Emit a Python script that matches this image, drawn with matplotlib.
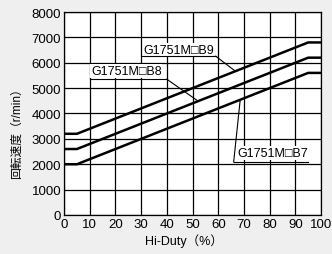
import matplotlib
matplotlib.use('Agg')
import matplotlib.pyplot as plt

# fonts: latin first, CJK for the japanese label and the box sign
plt.rcParams['font.family'] = ['Liberation Sans', 'Noto Sans CJK JP', 'DejaVu Sans']

# data (Hi-Duty % -> speed r/min)
duty = [0, 5, 95, 100]
speed_b7 = [2000, 2000, 5600, 5600]
speed_b8 = [2600, 2600, 6200, 6200]
speed_b9 = [3200, 3200, 6800, 6800]

names = ['G1751M□B7', 'G1751M□B8', 'G1751M□B9']

fig = plt.figure(figsize=(3.32, 2.55), dpi=100)
fig.patch.set_facecolor('#efefef')
ax = fig.add_axes([0.193, 0.153, 0.774, 0.796])
ax.set_facecolor('white')

for s in [speed_b7, speed_b8, speed_b9]:
    ax.plot(duty, s, color='black', lw=1.8, solid_capstyle='butt', zorder=3)

ax.set_xlim(0, 100)
ax.set_ylim(0, 8000)
ax.set_xticks(range(0, 101, 10))
ax.set_yticks(range(0, 8001, 1000))
ax.grid(True, color='black', lw=0.9)
ax.tick_params(length=0, labelsize=9.5, pad=2)
for sp in ax.spines.values():
    sp.set_color('black')
    sp.set_linewidth(0.9)

ax.set_xlabel('Hi-Duty（%）', fontsize=9)
ax.xaxis.set_label_coords(0.467, -0.092)
ax.set_ylabel('回転速度（r/min）', fontsize=8.5)
ax.yaxis.set_label_coords(-0.16, 0.42)

# labels with underline and leader line
box = dict(facecolor='white', edgecolor='none', pad=0.5)
# (text x, text y, underline x0, x1, underline y, leader end x, y)
lab = [
    (67.5, 2440, 66, 95, 2090, 68.5, 4500),
    (10.5, 5670, 10, 40, 5350, 52, 4500),
    (31, 6500, 30.5, 59, 6260, 66.5, 5680),
]
for name, (tx, ty, x0, x1, uy, lx, ly) in zip(names, lab):
    ax.text(tx, ty, name, fontsize=9, va='center', ha='left', bbox=box, zorder=4)
    ax.plot([x0, x1], [uy, uy], color='black', lw=0.8, zorder=4)
    if name.endswith('B7'):
        ax.plot([x0, lx], [uy, ly], color='black', lw=0.8, zorder=4)
    else:
        ax.plot([x1, lx], [uy, ly], color='black', lw=0.8, zorder=4)

fig.savefig('out.png', dpi=100, facecolor=fig.get_facecolor())
